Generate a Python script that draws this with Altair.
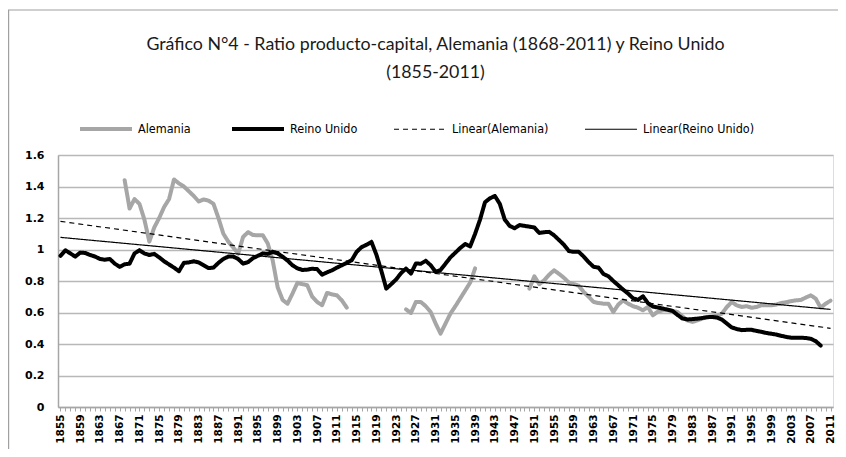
import altair as alt
import pandas as pd

# ---------------- data ----------------
uk_years = list(range(1855, 2010))
uk_values = [
    0.96, 0.995, 0.975, 0.955, 0.98, 0.978, 0.965, 0.955, 0.94, 0.935,
    0.94, 0.91, 0.89, 0.906, 0.91, 0.975, 0.995, 0.975, 0.965, 0.972,
    0.95, 0.925, 0.905, 0.885, 0.862, 0.915, 0.918, 0.925, 0.918, 0.9,
    0.882, 0.885, 0.915, 0.94, 0.955, 0.955, 0.94, 0.91, 0.92, 0.945,
    0.96, 0.975, 0.972, 0.985, 0.975, 0.955, 0.93, 0.9, 0.88, 0.87,
    0.872, 0.878, 0.875, 0.84, 0.855, 0.868, 0.885, 0.9, 0.915, 0.932,
    0.985, 1.015, 1.03, 1.048, 0.967, 0.865, 0.752, 0.78, 0.81, 0.85,
    0.879, 0.847, 0.911, 0.91, 0.928, 0.9, 0.858, 0.87, 0.91, 0.95,
    0.98, 1.01, 1.035, 1.02, 1.1, 1.19, 1.3, 1.325, 1.34, 1.29,
    1.19, 1.15, 1.135, 1.155, 1.15, 1.145, 1.14, 1.105, 1.11, 1.112,
    1.09, 1.06, 1.03, 0.99, 0.985, 0.985, 0.955, 0.92, 0.89, 0.885,
    0.845, 0.83, 0.8, 0.773, 0.745, 0.72, 0.69, 0.68, 0.703, 0.66,
    0.638, 0.632, 0.625, 0.618, 0.61, 0.585, 0.562, 0.556, 0.558, 0.561,
    0.565, 0.57, 0.572, 0.568, 0.555, 0.53, 0.505, 0.495, 0.488, 0.49,
    0.49, 0.483, 0.477, 0.47, 0.465, 0.46, 0.452, 0.445, 0.44, 0.44,
    0.44, 0.438, 0.433, 0.418, 0.39,
]

de1_years = list(range(1868, 1914))
de1_values = [
    1.44, 1.26, 1.32, 1.29, 1.19, 1.05, 1.14, 1.2, 1.27, 1.32,
    1.445, 1.42, 1.4, 1.37, 1.34, 1.305, 1.318, 1.31, 1.29, 1.2,
    1.1, 1.05, 1.013, 0.974, 1.08, 1.11, 1.092, 1.09, 1.09, 1.038,
    0.93, 0.76, 0.68, 0.656, 0.72, 0.788, 0.78, 0.773, 0.7, 0.667,
    0.646, 0.724, 0.715, 0.709, 0.677, 0.631,
]

de2_years = list(range(1925, 1940))
de2_values = [0.62, 0.597, 0.667, 0.667, 0.64, 0.603, 0.53, 0.466, 0.53,
              0.593, 0.64, 0.69, 0.74, 0.79, 0.88]

de3_years = list(range(1950, 2012))
de3_values = [
    0.752, 0.83, 0.78, 0.805, 0.84, 0.868, 0.845, 0.82, 0.79, 0.78,
    0.77, 0.73, 0.70, 0.667, 0.66, 0.656, 0.656, 0.603, 0.65, 0.677,
    0.656, 0.64, 0.63, 0.614, 0.635, 0.582, 0.605, 0.614, 0.614, 0.61,
    0.603, 0.575, 0.55, 0.54, 0.55, 0.561, 0.571, 0.575, 0.58, 0.593,
    0.635, 0.667, 0.645, 0.635, 0.64, 0.63, 0.635, 0.646, 0.646, 0.646,
    0.65, 0.66, 0.665, 0.672, 0.677, 0.68, 0.695, 0.709, 0.688, 0.631,
    0.656, 0.675,
]

series_names = ["Alemania", "Reino Unido", "Linear(Alemania)", "Linear(Reino Unido)"]
series_colors = ["#a6a6a6", "#000000", "#000000", "#000000"]
series_dash = [[1, 0], [1, 0], [5, 4], [1, 0]]
series_width = [4, 4, 1.2, 1.2]

y_ticks = [0, 0.2, 0.4, 0.6, 0.8, 1, 1.2, 1.4, 1.6]
x_ticks = list(range(1855, 2012))

title_lines = ["Gráfico N°4 - Ratio producto-capital, Alemania (1868-2011) y Reino Unido",
               "(1855-2011)"]

# ---------------- table ----------------
rows = []
for yr, v in zip(uk_years, uk_values):
    rows.append({"year": yr, "value": v, "serie": "Reino Unido", "seg": "uk"})
for seg, (ys, vs) in {"de1": (de1_years, de1_values),
                      "de2": (de2_years, de2_values),
                      "de3": (de3_years, de3_values)}.items():
    for yr, v in zip(ys, vs):
        rows.append({"year": yr, "value": v, "serie": "Alemania", "seg": seg})
df = pd.DataFrame(rows)

GRAY = "#a6a6a6"
LEG_FONT = "DejaVu Sans Condensed, Liberation Sans Narrow, Roboto Condensed, Roboto"

legend = alt.Legend(
    orient="none", legendX=20, legendY=-54, direction="horizontal", columns=4,
    title=None, symbolType="stroke", symbolSize=2700, labelFont=LEG_FONT,
    labelFontSize=12.5, labelColor="#000000", columnPadding=33, labelOffset=4, padding=0,
)

x_enc = alt.X(
    "year:Q",
    scale=alt.Scale(domain=[1854.5, 2011.5], nice=False, zero=False),
    axis=alt.Axis(
        values=x_ticks, labelExpr="(datum.value - 1855) % 4 == 0 ? datum.value : ''",
        labelAngle=270, labelFont="DejaVu Sans", labelFontWeight="bold", labelFontSize=10.5,
        labelColor="#000000", labelOverlap=False, labelPadding=3, tickSize=4, tickColor=GRAY,
        domainColor=GRAY, domainWidth=1.5, grid=False, title=None,
    ),
)
y_enc = alt.Y(
    "value:Q",
    scale=alt.Scale(domain=[0, 1.6], nice=False),
    axis=alt.Axis(
        values=y_ticks, format="~g", labelFont="DejaVu Sans", labelFontWeight="bold",
        labelFontSize=11, labelColor="#000000", ticks=False, labelPadding=14,
        domainColor=GRAY, domainWidth=1.5, grid=True, gridColor="#b8b8b8", gridWidth=1.6,
        title=None,
    ),
)
color_enc = alt.Color("serie:N", scale=alt.Scale(domain=series_names, range=series_colors), legend=legend)
dash_enc = alt.StrokeDash("serie:N", scale=alt.Scale(domain=series_names, range=series_dash), legend=legend)
width_enc = alt.StrokeWidth("serie:N", scale=alt.Scale(type="ordinal", domain=series_names, range=series_width), legend=legend)

base = alt.Chart(df)

de_line = base.transform_filter(alt.datum.serie == "Alemania").mark_line(
    strokeJoin="round", strokeCap="round").encode(
    x=x_enc, y=y_enc, color=color_enc, strokeDash=dash_enc, strokeWidth=width_enc,
    detail="seg:N")

uk_line = base.transform_filter(alt.datum.serie == "Reino Unido").mark_line(
    strokeJoin="round", strokeCap="round").encode(
    x=x_enc, y=y_enc, color=color_enc, strokeDash=dash_enc, strokeWidth=width_enc,
    detail="seg:N")

trend = base.transform_regression(
    "year", "value", groupby=["serie"], extent=[1855, 2011]
).transform_calculate(
    serie='"Linear(" + datum.serie + ")"'
).mark_line().encode(
    x=x_enc, y=y_enc, color=color_enc, strokeDash=dash_enc, strokeWidth=width_enc)

frame = alt.Chart(alt.Data(values=[{"f": 1}])).mark_rect(
    fillOpacity=0, stroke="#a0a0a0", strokeWidth=1.2).encode(
    x=alt.value(-49.4), x2=alt.value(900), y=alt.value(-145), y2=alt.value(500))

chart = alt.layer(frame, de_line, uk_line, trend).properties(
    width=775, height=252,
    autosize="none",
    padding={"left": 50, "top": 147, "right": 5, "bottom": 42},
    title=alt.TitleParams(
        text=title_lines, anchor="middle", font="Lato", fontSize=17.8, fontWeight="normal",
        color="#1a1a1a", lineHeight=28, offset=-72, dx=-10,
    ),
).configure_view(stroke=None).configure(background="white")

chart.save("out.html", embed_options={"renderer": "svg", "actions": False})
